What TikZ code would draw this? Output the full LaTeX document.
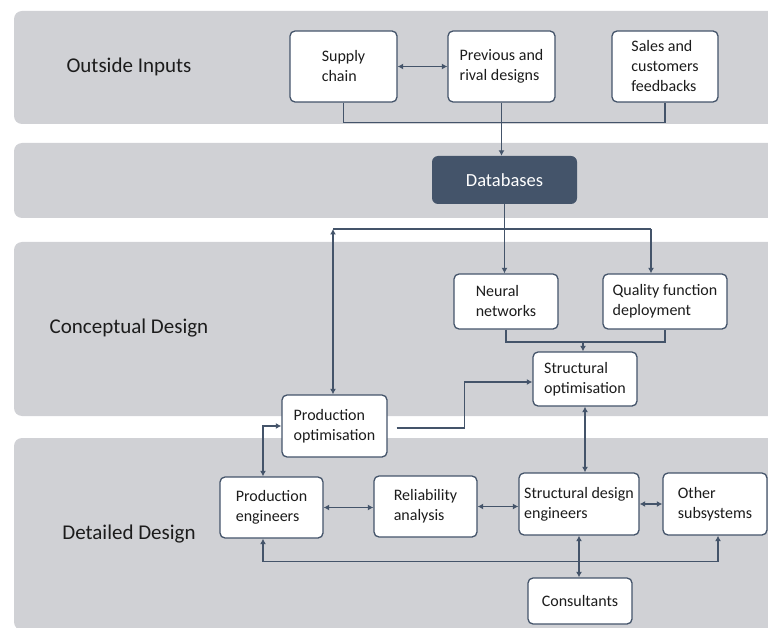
\documentclass[tikz,border=0pt]{standalone}
\usepackage{fontspec}
\setmainfont{Carlito}
\usetikzlibrary{arrows.meta,calc}

\definecolor{bandgray}{RGB}{208,209,213}
\definecolor{slate}{RGB}{68,84,106}
\definecolor{ink}{RGB}{28,28,28}

\tikzset{
  band/.style={fill=bandgray, rounded corners=8pt},
  lane/.style={font=\fontsize{21}{25}\selectfont, text=ink, anchor=center},
  card/.style={draw=slate, line width=1.3pt, fill=white, rounded corners=5pt,
    text=ink, font=\fontsize{16}{20}\selectfont, align=left, inner sep=0pt},
  hub/.style={fill=slate, rounded corners=6pt, text=white,
    font=\fontsize{18.5}{22}\selectfont, inner sep=0pt},
  conn/.style={draw=slate, line width=1.3pt},
  tip/.tip={Latex[length=5.5pt,width=6pt]},
  arr/.style={conn, -tip},
  arrboth/.style={conn, tip-tip},
}

\begin{document}
\begin{tikzpicture}[x=1pt, y=-1pt]
\useasboundingbox (0,0) rectangle (768,628);

% background lanes
\begin{scope}
  \clip (0,0) rectangle (768,628);
  \fill[band] (14,11)  rectangle (790,124);
  \fill[band] (14,143) rectangle (790,218);
  \fill[band] (14,242) rectangle (790,416);
  \fill[band] (14,438) rectangle (790,630);
\end{scope}

% lane titles
\node[lane] (l1) at (129,67)  {Outside Inputs};
\node[lane] (l3) at (129,328) {Conceptual Design};
\node[lane] (l4) at (129,534) {Detailed Design};

% outside inputs
\node[card, minimum width=107pt, minimum height=71pt] (supply) at (343.5,66.5) {Supply\\chain};
\node[card, minimum width=107pt, minimum height=71pt] (prev)   at (501.5,66.5) {Previous and\\rival designs};
\node[card, minimum width=106pt, minimum height=71pt] (sales)  at (665,66.5)   {Sales and\\customers\\feedbacks};

% databases
\node[hub, minimum width=145pt, minimum height=48pt] (db) at (504.5,180) {Databases};

% conceptual design
\node[card, minimum width=104pt, minimum height=55pt] (neural) at (506,301.5) {Neural\\networks};
\node[card, minimum width=124pt, minimum height=55pt] (qfd)    at (665,301.5) {Quality function\\deployment};
\node[card, minimum width=104pt, minimum height=54pt] (sopt)   at (585,379)   {Structural\\optimisation};
\node[card, minimum width=105pt, minimum height=62pt] (popt)   at (334.5,426) {Production\\optimisation};

% detailed design
\node[card, minimum width=103pt, minimum height=61pt] (peng)  at (271.5,507.5) {Production\\engineers};
\node[card, minimum width=103pt, minimum height=61pt] (rel)   at (425.5,506.5) {Reliability\\analysis};
\node[card, minimum width=120pt, minimum height=62pt] (sde)   at (579,504)     {Structural design\\engineers};
\node[card, minimum width=104pt, minimum height=62pt] (other) at (715,504)     {Other\\subsystems};
\node[card, minimum width=104pt, minimum height=46pt, align=center] (cons) at (580,601) {Consultants};

% outside inputs into databases
\draw[arrboth] (supply.east) -- (prev.west);
\draw[conn] (supply.south) -- ++(0,20) -| (sales.south);
\draw[arr] (prev.south) -- (prev.south |- db.north);

% databases out to the conceptual tools
\coordinate (busL) at (333,229);
\coordinate (busR) at (651,229);
\draw[conn] (busL) -- (busR);
\draw[conn] (db.south) -- (db.south |- busL);
\draw[arr] (db.south |- busL) -- (db.south |- neural.north);
\draw[arr] (busR) -- (busR |- qfd.north);
\draw[arrboth] (busL) -- (busL |- popt.north);

% neural networks + QFD into structural optimisation
\coordinate (join) at (583,342);
\draw[conn] (neural.south) -- (neural.south |- join) -- (qfd.south |- join) -- (qfd.south);
\draw[arr] (join) -- (join |- sopt.north);

% production optimisation to structural optimisation
\draw[arr] ([xshift=9pt,yshift=-2pt]popt.east) -- ++(68,0) |- ([yshift=-3pt]sopt.west);

% production optimisation <-> production engineers
\draw[arrboth] ([xshift=-8.5pt]peng.north) |- (popt.west);

% structural optimisation <-> structural design engineers
\draw[arrboth] (sopt.south) -- (sopt.south |- sde.north);

% detailed design links
\draw[arrboth] (peng.east) -- (peng.east -| rel.west);
\draw[arrboth] (rel.east) -- (rel.east -| sde.west);
\draw[arrboth] (sde.east) -- (other.west);
\draw[arrboth] (sde.south) -- (sde.south |- cons.north);
\draw[arrboth] ([xshift=-8.5pt]peng.south) -- ++(0,23) -| ([xshift=3pt]other.south);
\end{tikzpicture}
\end{document}
